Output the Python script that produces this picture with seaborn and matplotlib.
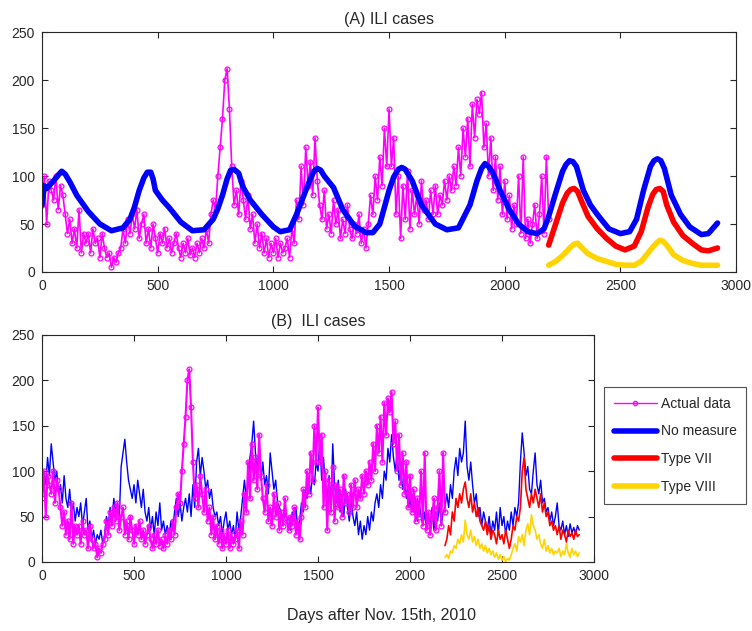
import numpy as np
import pandas as pd
import matplotlib
matplotlib.use("Agg")
import matplotlib.pyplot as plt
from matplotlib.lines import Line2D
import seaborn as sns

# actual ILI data, every 10 days from day 0 to 2190
actual_days = list(range(0, 2200, 10))
actual_cases = [
    70, 100, 50, 95, 85, 75, 100, 65, 90, 80,
    60, 40, 55, 30, 45, 25, 65, 20, 40, 30,
    40, 20, 45, 30, 35, 15, 40, 25, 15, 20,
    5, 15, 10, 20, 25, 45, 30, 55, 40, 60,
    45, 65, 35, 50, 60, 30, 45, 25, 50, 35,
    20, 40, 30, 45, 25, 35, 20, 30, 40, 25,
    15, 30, 20, 35, 18, 25, 15, 30, 20, 35,
    25, 45, 30, 60, 75, 65, 100, 130, 160, 200,
    212, 170, 110, 70, 85, 60, 95, 75, 55, 80,
    45, 60, 30, 50, 25, 40, 20, 35, 15, 30,
    20, 35, 15, 30, 20, 25, 35, 15, 45, 30,
    75, 55, 110, 70, 130, 90, 115, 80, 140, 95,
    70, 55, 85, 45, 60, 40, 75, 50, 65, 35,
    55, 40, 70, 45, 35, 50, 40, 60, 30, 45,
    25, 50, 80, 60, 100, 75, 120, 90, 150, 110,
    170, 110, 140, 60, 100, 35, 90, 55, 105, 45,
    85, 60, 80, 50, 95, 65, 75, 55, 85, 60,
    90, 60, 80, 70, 95, 75, 100, 85, 110, 90,
    130, 100, 150, 120, 160, 110, 175, 140, 180, 165,
    187, 130, 155, 100, 140, 85, 120, 75, 110, 60,
    95, 55, 80, 45, 70, 50, 100, 40, 120, 35,
    55, 30, 50, 70, 35, 60, 100, 40, 120, 55,
]

# (A) smooth model fit and projections
fit_days = [0, 10, 20, 50, 70, 85, 100, 120, 150, 200, 250, 300, 350, 380, 400, 420,
            440, 455, 470, 480, 490, 520, 550, 600, 650, 700, 740, 760, 780, 800, 815,
            830, 850, 860, 870, 900, 950, 1000, 1030, 1070, 1100, 1140, 1160, 1175,
            1190, 1205, 1220, 1260, 1300, 1350, 1400, 1430, 1460, 1500, 1520, 1540,
            1555, 1570, 1600, 1640, 1700, 1750, 1800, 1850, 1880, 1900, 1915, 1930,
            1950, 1980, 2020, 2060, 2100, 2140, 2170, 2190, 2220, 2250, 2265, 2280,
            2295, 2310, 2340, 2370, 2400, 2450, 2500, 2540, 2570, 2600, 2630, 2645,
            2660, 2675, 2690, 2720, 2760, 2800, 2850, 2880, 2920]
fit_none = [70, 90, 87, 95, 101, 105, 102, 94, 80, 63, 50, 43, 46, 55, 68, 85,
            98, 104, 104, 97, 85, 75, 67, 52, 43, 44, 55, 66, 80, 97, 106,
            107, 103, 95, 88, 75, 60, 47, 42, 44, 60, 85, 97, 105,
            108, 106, 100, 88, 65, 48, 41, 41, 50, 85, 99, 107,
            109, 107, 95, 70, 50, 44, 46, 70, 95, 108, 113, 110,
            103, 85, 65, 50, 42, 40, 45, 58, 82, 105, 112, 116,
            115, 110, 85, 70, 60, 45, 40, 42, 55, 85, 110, 116,
            118, 116, 108, 80, 60, 47, 39, 40, 51]
proj_days = [2190, 2220, 2250, 2270, 2285, 2300, 2315, 2330, 2360, 2400, 2440, 2480,
             2520, 2560, 2590, 2620, 2640, 2655, 2670, 2685, 2700, 2730, 2770, 2810,
             2850, 2880, 2920]
proj_type7 = [28, 50, 72, 82, 86, 87, 84, 75, 58, 45, 35, 27,
              23, 27, 42, 68, 81, 86, 87, 84, 70, 52, 38, 30,
              23, 22, 25]
proj_type8 = [7, 11, 17, 22, 26, 29, 30, 26, 19, 14, 11, 8,
              7, 7, 11, 20, 26, 30, 33, 32, 28, 18, 12, 9,
              7, 7, 7]

# (B) stochastic simulations, every 10 days
sim_days = list(range(0, 2930, 10))
sim_none = [
    70, 100, 85, 115, 95, 130, 110, 90, 100, 75,
    85, 65, 95, 70, 60, 80, 55, 65, 45, 60,
    50, 65, 40, 55, 70, 35, 45, 25, 35, 20,
    30, 25, 35, 20, 30, 50, 40, 60, 45, 70,
    55, 65, 50, 105, 120, 135, 110, 90, 80, 70,
    85, 65, 90, 75, 60, 80, 55, 45, 60, 35,
    50, 30, 55, 40, 65, 35, 45, 30, 40, 25,
    45, 35, 55, 70, 50, 65, 45, 60, 70, 55,
    75, 50, 85, 60, 110, 125, 95, 115, 100, 80,
    90, 70, 80, 60, 50, 55, 40, 50, 30, 45,
    55, 35, 45, 30, 40, 25, 55, 35, 50, 70,
    90, 70, 85, 115, 130, 155, 120, 100, 125, 90,
    110, 85, 95, 75, 120, 100, 80, 90, 65, 60,
    55, 40, 60, 45, 50, 35, 55, 45, 60, 35,
    45, 65, 55, 80, 70, 90, 75, 95, 85, 110,
    100, 135, 90, 115, 80, 70, 95, 60, 130, 85,
    65, 90, 55, 75, 50, 80, 60, 45, 70, 50,
    40, 55, 30, 45, 25, 40, 30, 50, 35, 55,
    45, 65, 75, 60, 85, 70, 100, 90, 125, 110,
    140, 115, 100, 120, 90, 105, 80, 95, 70, 85,
    60, 75, 55, 70, 45, 65, 50, 40, 55, 35,
    50, 40, 60, 35, 55, 45, 65, 40, 55, 60,
    75, 60, 85, 70, 100, 115, 95, 125, 110, 120,
    155, 105, 90, 110, 85, 65, 75, 50, 60, 40,
    55, 45, 35, 50, 30, 45, 35, 55, 30, 60,
    40, 50, 30, 45, 35, 55, 40, 60, 50, 65,
    110, 142, 120, 95, 105, 80, 75, 100, 120, 85,
    75, 90, 65, 70, 55, 60, 45, 55, 40, 50,
    65, 40, 35, 45, 30, 40, 28, 42, 32, 38,
    30, 40, 35,
]
sim_proj_days = list(range(2190, 2930, 10))
sim_type7 = [
    18,
    25, 40, 30, 55, 45, 70, 60, 75, 65, 80,
    88, 70, 60, 75, 55, 65, 50, 60, 45, 40,
    35, 45, 30, 40, 25, 35, 30, 20, 35, 25,
    30, 20, 35, 25, 15, 25, 40, 35, 50, 45,
    60, 100, 115, 80, 70, 60, 75, 65, 80, 70,
    60, 75, 55, 65, 50, 55, 40, 45, 35, 40,
    30, 40, 25, 35, 30, 22, 35, 28, 32, 25,
    35, 28, 30,
]
sim_type8 = [
    5,
    8, 4, 12, 10, 18, 15, 25, 20, 30, 22,
    46, 30, 25, 35, 22, 28, 18, 25, 15, 20,
    12, 18, 10, 15, 8, 12, 5, 10, 3, 8,
    2, 6, 0, 4, 2, 8, 15, 20, 12, 28,
    22, 30, 18, 35, 42, 30, 52, 40, 35, 25,
    30, 20, 15, 25, 12, 18, 10, 15, 8, 12,
    10, 15, 6, 12, 8, 20, 10, 5, 15, 8,
    12, 6, 10,
]

MAGENTA = "#ff00ff"
BLUE = "#0000ff"
RED = "#ff0000"
YELLOW = "#ffd400"

sns.set_theme(style="ticks")
plt.rcParams["font.family"] = ["Liberation Sans", "DejaVu Sans"]
plt.rcParams["xtick.direction"] = "in"
plt.rcParams["ytick.direction"] = "in"

fig = plt.figure(figsize=(7.52, 6.31), dpi=100)
ax1 = fig.add_axes([0.0559, 0.569, 0.9229, 0.380])
ax2 = fig.add_axes([0.0559, 0.1094, 0.734, 0.360])

marker_kw = dict(marker="o", markersize=3.5, markerfacecolor="none",
                 markeredgecolor=MAGENTA, markeredgewidth=0.9)

# panel A
sns.lineplot(x=actual_days, y=actual_cases, ax=ax1, color=MAGENTA, lw=1.2,
             estimator=None, **marker_kw)
sns.lineplot(x=fit_days, y=fit_none, ax=ax1, color=BLUE, lw=4, estimator=None)
sns.lineplot(x=proj_days, y=proj_type7, ax=ax1, color=RED, lw=4, estimator=None)
sns.lineplot(x=proj_days, y=proj_type8, ax=ax1, color=YELLOW, lw=4, estimator=None)

# panel B
sns.lineplot(x=sim_days, y=sim_none, ax=ax2, color=BLUE, lw=1, estimator=None)
sns.lineplot(x=actual_days, y=actual_cases, ax=ax2, color=MAGENTA, lw=1.5,
             estimator=None, **marker_kw)
sns.lineplot(x=sim_proj_days, y=sim_type7, ax=ax2, color=RED, lw=1.2, estimator=None)
sns.lineplot(x=sim_proj_days, y=sim_type8, ax=ax2, color=YELLOW, lw=1.2, estimator=None)

for ax, title in [(ax1, "(A) ILI cases"), (ax2, "(B)  ILI cases")]:
    ax.set_xlim(0, 3000)
    ax.set_ylim(0, 250)
    ax.set_xticks(range(0, 3001, 500))
    ax.set_yticks(range(0, 251, 50))
    ax.tick_params(axis="both", labelsize=10, length=4, width=0.8, colors="#262626",
                   top=True, right=True, pad=5)
    for s in ax.spines.values():
        s.set_visible(True)
        s.set_linewidth(0.8)
        s.set_color("#262626")
    ax.set_title(title, fontsize=11.5, pad=6)
    ax.set_xlabel("")
    ax.set_ylabel("")

fig.text(0.507, 0.012, "Days after Nov. 15th, 2010", ha="center", va="bottom", fontsize=11.5)

handles = [
    Line2D([0, 1, 2], [0, 0, 0], color=MAGENTA, lw=1, marker="o", markersize=3,
           markevery=[1], markerfacecolor="none", markeredgecolor=MAGENTA),
    Line2D([], [], color=BLUE, lw=4),
    Line2D([], [], color=RED, lw=4),
    Line2D([], [], color=YELLOW, lw=4),
]
labels = ["Actual data", "No measure", "Type VII", "Type VIII"]
leg = fig.legend(handles, labels, loc="upper left", bbox_to_anchor=(0.803, 0.387),
                 fontsize=10, handlelength=3.1, labelspacing=1.0, handletextpad=0.3,
                 borderpad=0.7, borderaxespad=0, fancybox=False, frameon=True,
                 edgecolor="#262626")
leg.get_frame().set_linewidth(0.8)

fig.savefig("out.png", dpi=100)
